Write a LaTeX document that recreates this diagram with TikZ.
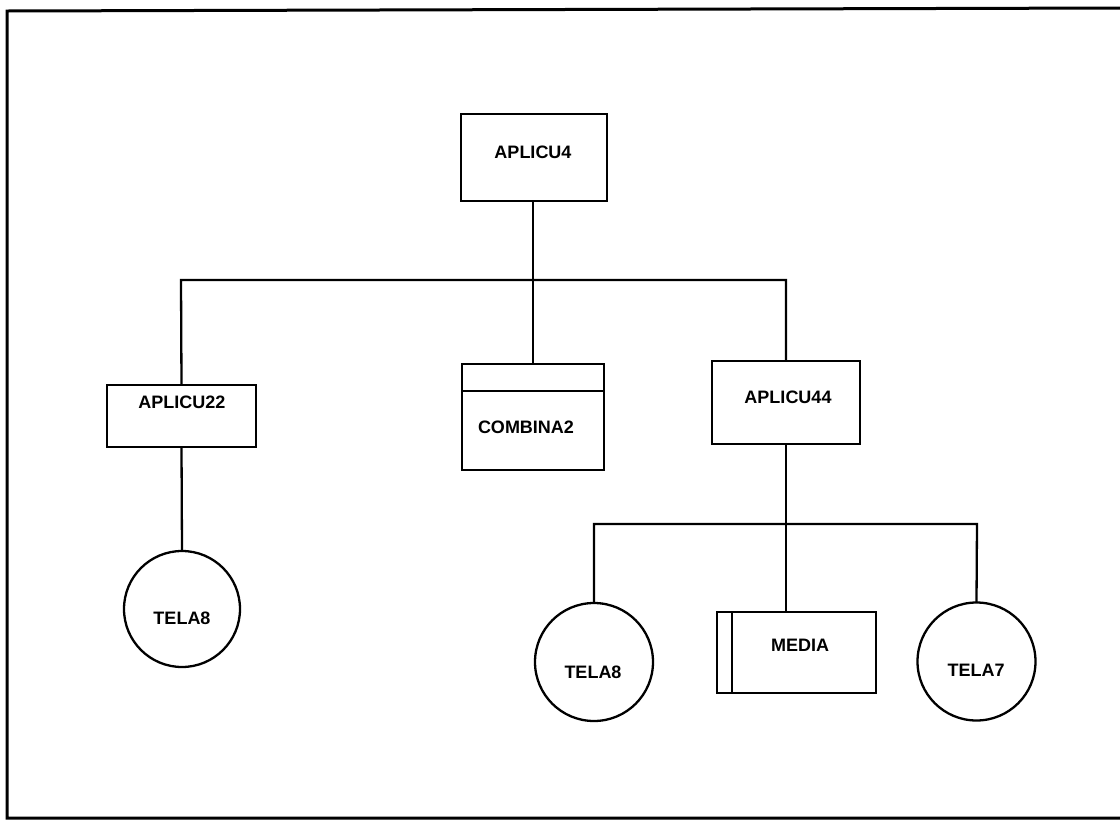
\documentclass[tikz,border=0pt]{standalone}
\usepackage{fontspec}
\setmainfont{Liberation Sans}
\begin{document}
\begin{tikzpicture}[x=1pt,y=-1pt,
  every node/.style={inner sep=0pt,outer sep=0pt},
  boxnode/.style={draw,line width=2.3pt,rectangle},
  circnode/.style={draw,line width=2.3pt,circle,minimum size=118pt},
  lbl/.style={font=\fontsize{18}{21}\selectfont\bfseries},
  conn/.style={line width=2.3pt}]
\useasboundingbox (0,0) rectangle (1120,820);
% frame
\draw[line width=3pt] (1120,8) -- (7,11) -- (7,818) -- (1120,818);
% boxes
\node[boxnode,minimum width=146pt,minimum height=87pt] (a4) at (534,157.5) {};
\node[lbl] (a4t) at (533,152) {APLICU4};
\node[boxnode,minimum width=149pt,minimum height=62pt] (a22) at (181.5,416) {};
\node[lbl] (a22t) at (182,402) {APLICU22};
\node[boxnode,minimum width=142pt,minimum height=106pt] (cb) at (533,417) {};
\draw[line width=2.3pt] (cb.north west |- 0,391) -- (cb.north east |- 0,391);
\node[lbl] (cbt) at (526,427) {COMBINA2};
\node[boxnode,minimum width=148pt,minimum height=83pt] (a44) at (786,402.5) {};
\node[lbl] (a44t) at (788,397) {APLICU44};
\node[boxnode,minimum width=159pt,minimum height=81pt] (md) at (796.5,652.5) {};
\draw[line width=2.3pt] (md.north west -| 732,0) -- (md.south west -| 732,0);
\node[lbl] (mdt) at (800,645) {MEDIA};
% circles
\node[circnode,minimum size=116pt] (t8l) at (182,609) {};
\node[lbl] (t8lt) at (182,618) {TELA8};
\node[circnode] (t8r) at (594,662) {};
\node[lbl] (t8rt) at (593,672) {TELA8};
\node[circnode] (t7) at (976.5,661.5) {};
\node[lbl] (t7t) at (976,670) {TELA7};
% connectors
\coordinate (hl) at (181,280);
\coordinate (hr) at (786,280);
\draw[conn] (a4.south -| cb.north) -- (cb.north);
\draw[conn] (a22.north) -- (hl) -- (hr) -- (a44.north);
\draw[conn] (a22.south) -- (t8l.north);
\draw[conn] (a44.south) -- (a44.south |- md.north);
\coordinate (ll) at (594,524);
\coordinate (lr) at (977,524);
\draw[conn] (t8r.north) -- (ll) -- (lr) -- (t7.north);
\end{tikzpicture}
\end{document}
